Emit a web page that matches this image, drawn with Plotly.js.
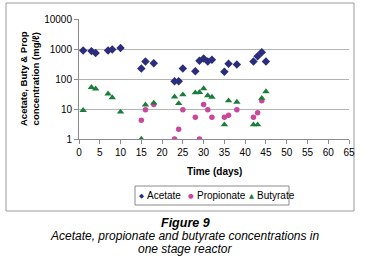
<!DOCTYPE html>
<html>
<head>
<meta charset="utf-8">
<script src="https://cdn.plot.ly/plotly-3.0.1.min.js"></script>
<style>html,body{margin:0;padding:0;background:#fff;}#chart{width:368px;height:270px;}</style>
</head>
<body>
<div id="chart"></div>
<script>
// ---- Data ----
var acetateDays = [1,3,4,7,8,10,15,16,18,23,24,25,28,29,30,31,32,35,36,38,42,43,44,45];
var acetate     = [890,850,740,890,960,1080,224,383,336,84,84,224,182,404,482,383,436,174,321,304,383,575,782,383];

var propionateDays = [15,16,18,23,24,25,28,29,30,31,32,35,36,38,42,43,44];
var propionate     = [4.2,9.4,14,1,2.1,9.4,5.3,1,14,9.4,5.3,5.3,6.2,9.4,5.3,7.5,19];

var butyrateDays = [1,3,4,7,8,10,15,16,18,23,24,25,28,29,30,31,32,35,36,38,42,43,44,45];
var butyrate     = [9,53,47,32,24,8,1,13.8,16,25.5,15.3,30,35,36,48,28,25,3,19,17,3,3,23,38];

var xTicks = [0,5,10,15,20,25,30,35,40,45,50,55,60,65];
var yTicks = [1,10,100,1000,10000];
var yTickText = ['1','10','100','1000','10000'];

var seriesNames = ['Acetate','Propionate','Butyrate'];
var xTitle = 'Time (days)';
var yTitleLines = ['Acetate, Buty &amp; Prop','concentration (mg/ℓ)'];
var captionTitle = 'Figure 9';
var captionLines = ['Acetate, propionate and butyrate concentrations in','one stage reactor'];

// ---- Layout helpers (pixel -> paper) ----
var W = 368, H = 270;
var mL = 79, mR = 19, mT = 19, mB = 131;
var pw = W - mL - mR, ph = H - mT - mB;
function px(x){ return (x - mL) / pw; }
function py(y){ return (H - mB - y) / ph; }

var FONT = '"Liberation Sans", Arial, sans-serif';
var cA = '#2b2d7c', cP = '#c9479c', cB = '#1b7d3b';

var traces = [
  {x: acetateDays, y: acetate, name: seriesNames[0], mode: 'markers', type: 'scatter',
   marker: {symbol: 'diamond', size: 6.5, color: cA}},
  {x: propionateDays, y: propionate, name: seriesNames[1], mode: 'markers', type: 'scatter',
   marker: {symbol: 'circle', size: 5.5, color: cP}},
  {x: butyrateDays, y: butyrate, name: seriesNames[2], mode: 'markers', type: 'scatter',
   marker: {symbol: 'triangle-up', size: 6.5, color: cB}}
];

var annotations = [
  {xref:'paper', yref:'paper', x: px(29), y: 0.5, xanchor:'center', yanchor:'middle',
   text: '<b>' + yTitleLines.join('<br>') + '</b>', textangle: -90, showarrow:false,
   font:{family:FONT, size:9.5, color:'#000'}},
  {xref:'paper', yref:'paper', x: px(214), y: py(171), xanchor:'center', yanchor:'middle',
   text: '<b>' + xTitle + '</b>', showarrow:false, font:{family:FONT, size:10, color:'#000'}},
  // legend items
  {xref:'paper', yref:'paper', x: px(141), y: py(195.5), xanchor:'center', yanchor:'middle',
   text: '◆', showarrow:false, font:{family:'DejaVu Sans', size:6.5, color:cA}},
  {xref:'paper', yref:'paper', x: px(145), y: py(195.5), xanchor:'left', yanchor:'middle',
   text: seriesNames[0], showarrow:false, font:{family:FONT, size:10, color:'#000'}},
  {xref:'paper', yref:'paper', x: px(191), y: py(195.5), xanchor:'center', yanchor:'middle',
   text: '●', showarrow:false, font:{family:'DejaVu Sans', size:6.5, color:cP}},
  {xref:'paper', yref:'paper', x: px(195), y: py(195.5), xanchor:'left', yanchor:'middle',
   text: seriesNames[1], showarrow:false, font:{family:FONT, size:10, color:'#000'}},
  {xref:'paper', yref:'paper', x: px(251), y: py(195.5), xanchor:'center', yanchor:'middle',
   text: '▲', showarrow:false, font:{family:'DejaVu Sans', size:6.5, color:cB}},
  {xref:'paper', yref:'paper', x: px(255), y: py(195.5), xanchor:'left', yanchor:'middle',
   text: seriesNames[2], showarrow:false, font:{family:FONT, size:10, color:'#000'}},
  // caption
  {xref:'paper', yref:'paper', x: px(185), y: py(223), xanchor:'center', yanchor:'middle',
   text: '<b><i>' + captionTitle + '</i></b>', showarrow:false, font:{family:FONT, size:12.5, color:'#000'}},
  {xref:'paper', yref:'paper', x: px(185), y: py(236), xanchor:'center', yanchor:'middle',
   text: '<i>' + captionLines[0] + '</i>', showarrow:false, font:{family:FONT, size:12, color:'#000'}},
  {xref:'paper', yref:'paper', x: px(185), y: py(248.5), xanchor:'center', yanchor:'middle',
   text: '<i>' + captionLines[1] + '</i>', showarrow:false, font:{family:FONT, size:12, color:'#000'}}
];

var shapes = [
  {type:'rect', xref:'paper', yref:'paper', x0: px(6), x1: px(354), y0: py(211), y1: py(3),
   line:{color:'#9a9a9a', width:1}, fillcolor:'rgba(0,0,0,0)', layer:'below'},
  {type:'rect', xref:'paper', yref:'paper', x0: px(135), x1: px(289), y0: py(205), y1: py(186),
   line:{color:'#8a8a8a', width:1}, fillcolor:'#fff'}
];

var layout = {
  width: W, height: H,
  margin: {l: mL, r: mR, t: mT, b: mB, pad: 0},
  paper_bgcolor: '#fff', plot_bgcolor: '#fff',
  showlegend: false,
  font: {family: FONT, size: 10, color: '#000'},
  xaxis: {
    range: [0, 65], tickvals: xTicks, ticktext: xTicks.map(String),
    showgrid: false, zeroline: false, showline: true, linecolor: '#8c8c8c', linewidth: 1,
    ticks: 'outside', ticklen: 4, tickcolor: '#8c8c8c',
    tickfont: {family: FONT, size: 10, color: '#000'}
  },
  yaxis: {
    type: 'log', range: [0, 4], tickvals: yTicks, ticktext: yTickText,
    showgrid: true, gridcolor: '#b4b4b4', gridwidth: 1, zeroline: false,
    showline: true, linecolor: '#8c8c8c', linewidth: 1,
    ticks: 'outside', ticklen: 4, tickcolor: '#8c8c8c',
    tickfont: {family: FONT, size: 10, color: '#000'}
  },
  annotations: annotations,
  shapes: shapes
};

Plotly.newPlot('chart', traces, layout, {staticPlot: true, displayModeBar: false});
</script>
</body>
</html>
